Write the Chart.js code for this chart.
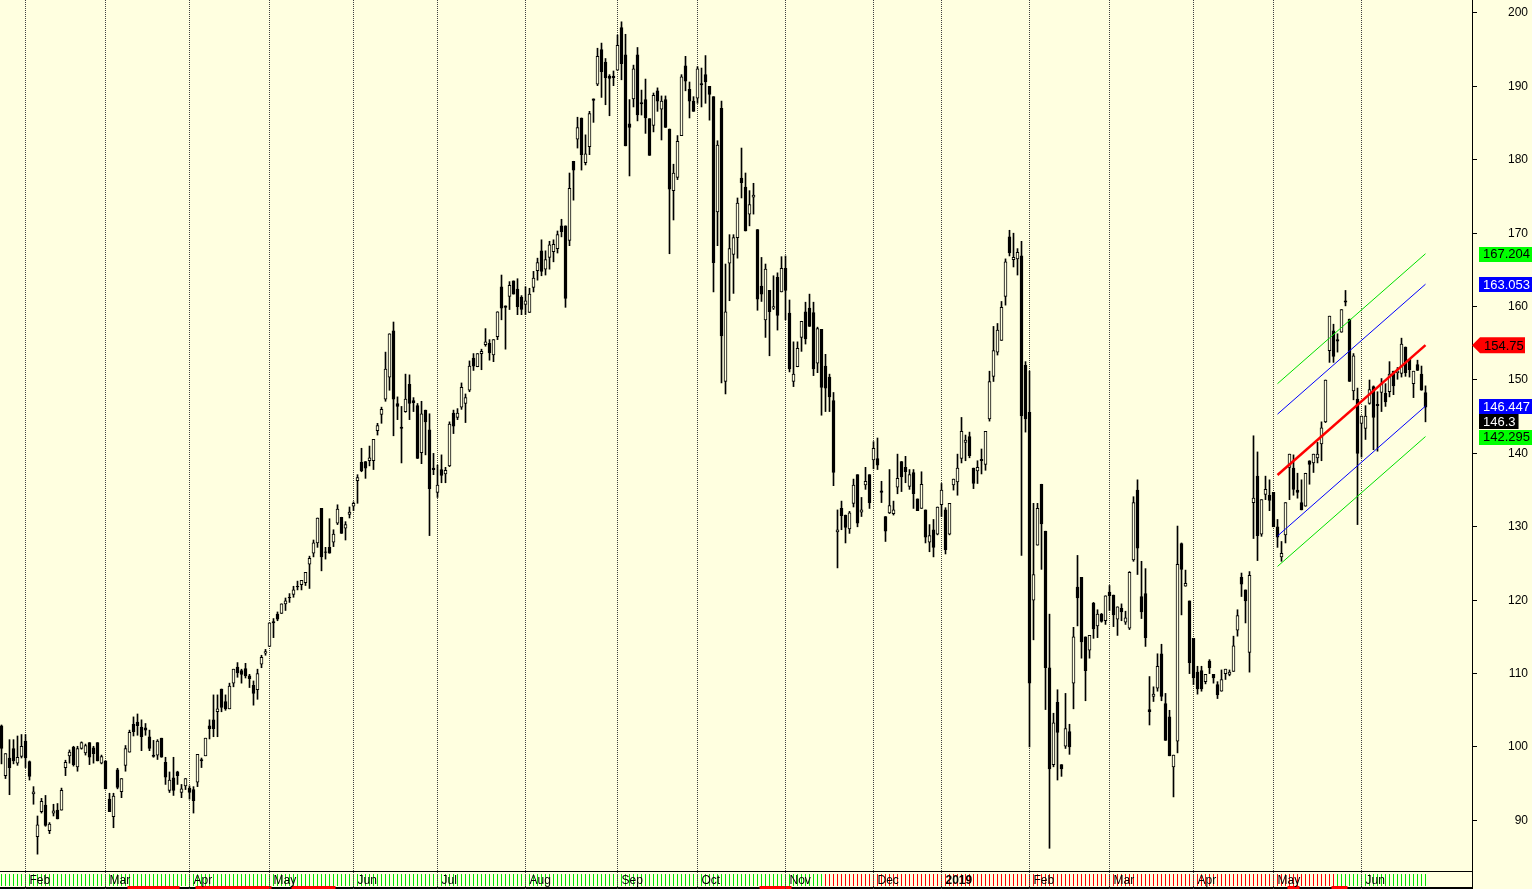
<!DOCTYPE html>
<html>
<head>
<meta charset="utf-8">
<script src="https://cdn.jsdelivr.net/npm/chart.js@4.4.1/dist/chart.umd.min.js"></script>
<style>
html, body { margin: 0; padding: 0; background: #FFFFE0; overflow: hidden; }
canvas { display: block; }
</style>
</head>
<body>
<canvas id="price_plot" width="1532" height="889"></canvas>
<script>
// daily bars, index 0 = first bar on the left
const opens = [
102.9,96.1,98.5,99.8,97.8,98.7,100.8,98.0,93.6,87.8,
91.2,92.1,88.6,91.0,91.4,91.4,97.2,98.8,100.0,97.3,
99.8,99.2,100.6,99.9,100.6,97.8,98.1,92.9,90.5,96.9,
93.9,97.5,99.3,103.1,103.4,102.7,102.6,101.4,98.9,98.9,
101.2,97.9,94.1,95.8,96.6,93.8,94.7,94.4,94.2,95.2,
98.3,98.8,102.9,103.7,104.8,107.9,106.2,105.2,108.7,110.9,
110.4,110.7,109.7,108.4,107.8,111.3,112.8,113.7,117.1,118.1,
118.2,119.5,120.4,120.8,121.9,122.1,122.4,124.9,126.4,127.8,
132.5,126.6,127.2,127.9,130.5,131.3,129.8,131.7,132.8,136.3,
138.8,138.9,139.0,139.0,143.1,145.3,147.4,150.4,156.7,146.8,
143.6,145.7,149.4,147.2,146.5,140.1,145.9,143.2,138.0,134.7,
137.8,137.2,138.3,145.5,144.9,146.3,146.8,148.6,153.0,151.8,
153.6,154.8,155.0,153.4,155.9,162.7,160.1,161.4,163.5,162.4,
161.3,160.3,159.2,162.6,164.9,167.6,165.1,166.7,167.5,167.9,
171.0,171.0,169.0,179.8,182.8,185.7,179.6,181.8,188.3,190.3,
195.0,193.3,191.4,191.4,192.2,198.0,194.3,184.9,188.3,194.3,
187.8,188.2,185.6,184.7,189.4,186.9,188.2,184.2,175.8,177.6,
183.3,192.8,189.6,188.0,188.4,190.4,191.6,190.0,188.6,172.9,
187.0,149.8,165.9,167.1,169.4,177.5,176.3,172.6,174.9,170.5,
162.8,158.2,162.2,159.8,164.0,162.0,165.2,159.1,149.8,151.8,
155.8,159.3,159.8,159.2,152.3,156.9,151.9,150.4,147.2,129.3,
132.5,131.6,129.7,133.2,137.1,132.0,135.7,137.1,139.1,139.3,
134.9,131.4,131.9,131.8,135.4,138.9,138.1,135.5,137.4,133.8,
132.5,132.3,127.9,129.6,129.0,133.0,132.3,129.0,135.7,136.1,
139.3,141.5,142.3,138.0,137.6,139.2,138.5,144.7,150.5,153.8,
155.4,161.4,169.5,166.4,166.5,166.9,152.0,145.6,120.0,127.5,
135.8,129.4,110.8,97.6,106.1,97.6,100.1,102.1,108.7,121.8,
123.1,115.0,113.2,119.6,116.5,118.1,117.2,121.1,120.7,117.4,
118.9,117.0,116.2,125.5,135.0,120.5,120.9,105.1,106.9,108.0,
112.7,105.9,104.1,97.3,100.8,127.7,121.9,119.9,114.8,110.2,
110.4,108.9,111.7,109.9,108.5,107.6,110.0,109.9,110.3,115.9,
123.1,121.4,112.9,133.3,136.9,129.0,134.4,134.3,134.7,130.0,
125.9,128.9,138.1,138.0,135.0,133.3,132.8,139.0,138.7,139.4,
141.3,144.3,154.0,156.7,155.5,156.5,160.8,158.3,148.5,147.4,
144.1,143.4,146.8,149.1,146.7,148.3,148.2,148.4,151.2,151.0,
150.9,154.5,152.8,149.5,152.1,150.8,148.3
];
const highs = [
103.0,99.1,101.0,101.0,101.5,101.7,101.7,98.1,94.6,90.6,
93.0,93.4,89.7,92.2,92.3,94.4,98.2,99.6,100.1,100.1,
100.7,100.4,100.6,100.1,100.6,98.9,98.1,93.7,93.7,97.1,
95.7,100.2,102.3,104.1,104.5,103.7,103.2,102.3,100.9,101.0,
101.2,98.6,96.6,98.6,96.7,94.9,95.7,94.7,94.6,99.0,
98.5,101.2,103.7,107.1,107.1,107.9,107.1,108.7,110.6,111.5,
110.6,111.4,109.9,109.0,110.6,112.5,113.3,116.9,117.5,118.4,
119.5,120.3,120.9,121.9,122.6,122.7,123.8,126.0,128.2,131.2,
132.5,127.2,131.1,129.6,133.0,131.3,130.7,132.7,133.4,137.1,
140.7,138.9,141.0,141.9,144.1,146.3,153.8,156.3,157.9,147.7,
146.4,150.8,150.7,147.6,146.8,147.1,145.9,145.4,140.0,138.4,
139.8,138.1,144.3,145.9,146.1,149.6,148.1,152.6,153.6,153.6,
154.2,157.0,155.5,155.5,159.3,164.3,160.1,163.4,163.5,163.8,
161.5,162.7,162.5,164.8,166.6,169.1,167.6,168.9,169.1,170.3,
171.9,171.0,178.2,179.8,185.8,185.7,183.4,186.6,188.3,195.2,
195.9,193.8,191.6,192.1,197.0,198.8,197.1,188.2,192.9,195.3,
189.5,191.0,185.6,189.1,189.8,188.7,188.7,184.2,179.4,183.3,
191.6,194.1,190.6,188.6,192.7,192.5,194.2,190.0,188.6,182.6,
188.0,165.8,169.8,169.8,174.8,181.6,178.2,175.8,176.8,170.5,
166.7,165.8,162.2,164.2,164.6,166.8,166.9,160.9,155.2,155.2,
158.0,160.6,161.7,160.6,157.2,156.9,153.5,150.8,148.3,132.3,
133.5,131.6,132.1,136.5,137.1,134.0,138.1,137.1,141.6,142.1,
136.2,131.4,137.8,133.5,139.9,138.9,139.6,137.8,137.8,133.8,
137.5,132.3,130.3,131.0,132.7,135.9,132.6,133.2,136.5,139.9,
144.9,142.5,142.9,138.0,139.0,140.6,143.0,151.2,157.3,157.7,
160.7,166.5,170.4,170.0,167.9,168.9,152.5,151.2,133.2,133.2,
135.8,129.4,118.1,104.6,107.8,97.6,107.3,103.1,116.3,126.1,
123.1,115.0,115.2,119.7,118.7,118.2,120.6,122.0,120.7,119.1,
119.5,118.5,123.9,134.1,136.4,125.3,124.3,109.6,108.2,112.7,
114.0,107.3,105.0,98.9,130.1,127.8,124.1,119.9,114.8,111.0,
111.0,109.9,111.9,109.9,108.9,110.5,110.6,110.5,115.1,118.7,
123.7,121.4,123.9,142.4,140.2,133.7,136.9,136.4,134.7,131.0,
128.0,133.3,139.9,139.8,137.3,136.4,137.3,139.0,139.9,141.5,
144.3,150.0,158.7,157.6,156.3,159.6,162.2,158.3,153.6,148.9,
145.1,146.5,150.0,149.2,148.4,150.2,149.5,152.5,151.2,151.7,
155.7,154.5,152.8,151.2,152.7,151.9,149.2
];
const lows = [
97.7,95.7,93.5,97.7,97.5,98.5,97.2,95.5,92.2,85.4,
91.0,89.2,88.2,90.6,90.2,91.4,96.1,97.8,97.4,96.7,
99.7,98.9,97.6,97.8,98.1,97.7,94.3,91.2,89.0,94.3,
93.1,96.7,99.3,101.5,101.6,99.5,101.6,99.5,98.6,98.3,
98.6,94.9,93.8,93.4,94.9,93.1,94.2,92.9,91.0,94.6,
97.2,98.8,101.1,101.4,101.4,104.8,105.0,105.2,108.2,109.5,
108.7,109.4,108.1,105.7,106.5,110.8,112.5,113.7,114.9,117.2,
118.2,118.6,119.7,120.4,121.4,121.4,122.0,121.6,125.9,127.2,
124.0,125.6,126.4,127.3,130.3,129.1,128.2,131.2,132.2,133.2,
137.5,136.6,138.3,137.8,142.5,144.1,147.1,148.6,142.4,144.6,
138.7,145.6,144.6,145.7,139.3,138.6,139.8,128.8,137.1,134.0,
136.0,136.0,138.2,142.7,144.6,146.0,144.2,148.4,151.3,151.8,
151.4,154.6,152.7,152.5,155.5,158.2,154.2,159.6,161.7,158.9,
158.9,158.9,159.2,162.0,163.6,164.2,164.3,165.1,166.1,167.3,
169.5,159.9,168.3,174.5,181.6,178.6,179.3,180.7,185.1,190.1,
188.5,187.5,186.0,190.1,192.2,190.9,181.9,177.8,187.2,185.3,
186.1,183.6,180.6,183.8,186.6,182.7,184.4,167.2,171.8,177.3,
183.3,189.4,185.7,186.6,187.7,187.2,187.7,185.4,162.0,168.3,
149.6,148.1,160.8,161.8,166.6,174.8,170.3,171.0,172.6,159.5,
160.7,155.8,153.3,159.6,156.8,162.0,158.2,151.1,149.1,151.8,
153.9,154.9,157.3,150.6,151.0,145.2,145.7,145.7,135.6,124.4,
129.6,127.8,129.1,132.7,130.0,131.4,135.1,132.5,137.9,137.8,
133.3,128.0,131.8,131.6,134.5,134.8,136.0,135.1,132.5,132.2,
132.5,127.8,126.6,125.9,128.9,131.4,126.3,128.9,135.0,134.3,
138.7,139.0,139.4,135.2,135.9,137.2,137.7,144.4,149.8,153.4,
155.4,160.2,166.9,165.4,164.3,126.1,142.9,100.0,114.6,127.5,
124.2,105.1,86.2,97.3,95.5,96.0,99.8,99.0,105.2,116.5,
112.1,106.3,112.1,114.8,114.9,117.0,116.7,118.6,116.4,115.2,
117.2,116.7,116.0,125.3,123.5,117.5,113.7,103.0,106.2,107.6,
106.3,100.9,98.8,93.2,99.2,118.0,121.9,110.0,108.5,107.2,
107.6,108.6,110.0,108.7,106.6,107.6,109.2,109.7,110.3,115.1,
120.5,116.9,110.2,128.4,125.4,128.7,133.7,132.2,130.0,127.2,
125.3,127.8,133.7,134.3,133.9,132.3,132.8,135.8,137.4,138.7,
139.0,144.2,152.4,152.4,153.8,156.5,160.1,149.8,147.3,130.3,
139.5,141.9,146.7,140.5,140.3,145.7,146.4,147.7,148.0,150.1,
150.4,150.5,150.4,147.6,151.3,148.6,144.3
];
const closes = [
99.8,99.1,97.2,98.1,98.6,100.1,98.5,96.0,93.9,89.4,
92.6,89.3,89.5,91.3,90.2,94.1,97.9,99.3,97.6,99.8,
100.6,100.2,98.6,99.1,98.1,98.7,94.3,91.2,93.3,94.5,
95.7,99.8,102.0,102.1,102.9,101.4,102.3,99.8,98.7,100.8,
98.6,95.9,95.5,94.1,96.1,94.3,95.7,93.8,92.7,99.0,
98.1,101.2,102.5,102.5,105.2,105.4,105.2,108.3,110.6,110.1,
109.9,109.7,109.3,107.3,110.0,112.2,113.0,116.9,116.9,117.4,
119.5,119.9,120.3,121.4,121.8,122.7,123.8,125.7,127.8,131.2,
125.9,126.5,126.4,129.0,132.4,129.1,130.3,132.0,133.2,136.7,
137.6,138.0,139.4,141.9,143.8,146.0,151.5,156.3,147.4,146.4,
143.4,147.4,146.8,146.9,139.3,145.4,144.3,135.2,137.8,135.7,
137.0,137.7,144.0,143.7,145.5,149.0,147.6,151.9,151.9,153.6,
153.9,155.2,153.7,155.5,159.3,159.8,159.9,162.9,161.7,160.0,
159.6,160.8,161.7,163.9,166.0,164.8,166.4,168.4,168.5,169.8,
170.2,161.1,176.1,178.6,184.4,180.7,180.8,186.3,188.1,194.1,
192.0,191.2,191.1,191.2,195.6,193.1,181.9,184.4,192.4,186.1,
187.6,185.7,180.6,188.8,188.0,188.0,184.4,176.0,178.2,182.5,
191.3,190.7,188.0,186.6,192.4,190.2,190.6,188.9,166.0,182.0,
156.0,159.3,167.9,169.4,174.1,176.9,170.3,173.9,175.2,161.0,
161.7,165.1,159.3,160.0,158.8,165.2,162.2,151.5,150.8,154.3,
158.0,155.6,157.3,151.5,157.0,149.0,148.9,147.7,137.4,129.6,
131.5,129.9,131.9,135.7,130.5,132.3,136.2,133.3,140.7,138.4,
134.7,129.4,132.9,132.3,136.6,136.8,137.5,137.1,134.5,132.2,
135.8,128.6,128.8,127.2,132.7,135.0,126.9,133.2,136.5,138.0,
143.0,141.8,139.7,135.9,138.1,139.0,143.0,149.8,154.0,156.8,
159.9,166.1,167.3,166.7,167.4,145.1,144.7,108.7,123.5,132.5,
130.4,110.8,97.0,103.3,102.0,97.0,102.5,100.0,115.0,120.3,
114.3,110.4,115.2,116.1,118.1,117.1,120.6,120.6,118.0,119.1,
118.4,117.6,123.8,133.3,127.1,118.4,114.9,104.8,107.2,111.0,
106.9,100.9,98.8,98.9,124.9,124.2,122.3,111.5,109.4,107.9,
107.9,109.9,110.8,109.4,107.1,109.2,110.6,110.2,113.8,117.9,
122.2,119.9,123.4,133.9,128.8,133.7,135.1,133.6,130.0,128.6,
126.4,133.3,139.9,135.1,134.7,132.3,137.3,138.5,139.9,139.9,
143.5,150.0,158.7,153.2,155.3,159.6,160.6,149.8,153.3,140.0,
145.1,145.1,148.7,144.9,146.5,149.5,147.0,150.8,149.2,151.2,
154.9,151.0,151.4,151.2,151.3,148.6,146.3
];

// first bar of each month and its label
const monthStarts = [6, 26, 47, 67, 88, 109, 131, 154, 174, 196, 218, 235, 257, 277, 298, 318, 340];
const monthNames = ['Feb','Mar','Apr','May','Jun','Jul','Aug','Sep','Oct','Nov','Dec','2019','Feb','Mar','Apr','May','Jun'];

// regression channel over the last bars (start / end values)
const channelX = [319, 356];
const channelMid = [137.05, 154.75];
const channelUp1 = [145.35, 163.053];
const channelLow1 = [128.75, 146.447];
const channelUp2 = [149.50, 167.204];
const channelLow2 = [124.60, 142.295];

// indicator strip under the chart: [fromBar, toBar, state]
const signalRanges = [[0, 205, 'up'], [206, 333, 'down'], [334, 356, 'up']];
const flagRanges = [[32, 44], [49, 67], [73, 83], [190, 197], [322, 324], [333, 336]];

// price tags on the right axis
const tagValues = [167.204, 163.053, 154.75, 146.447, 146.3, 142.295];
const tagTexts = ['167.204', '163.053', '154.75', '146.447', '146.3', '142.295'];

const BG = '#FFFFE0';
const FONT = "'Liberation Sans', Arial, sans-serif";
const tagStyles = [
    { bg: '#00FF00', fg: '#000000' },
    { bg: '#0000FF', fg: '#FFFFFF' },
    { bg: '#FF0000', fg: '#000000', arrow: true },
    { bg: '#0000FF', fg: '#FFFFFF' },
    { bg: '#000000', fg: '#FFFFFF' },
    { bg: '#00FF00', fg: '#000000' }
];

const bars = closes.map((c, i) => i);

function linePts(ys) {
    return channelX.map((x, i) => ({ x: x, y: ys[i] }));
}

const backgroundPlugin = {
    id: 'paper',
    beforeDraw(chart) {
        const ctx = chart.ctx;
        ctx.save();
        ctx.fillStyle = BG;
        ctx.fillRect(0, 0, chart.width, chart.height);
        ctx.restore();
    }
};

// month grid + bottom strip
const stripPlugin = {
    id: 'strip',
    beforeDatasetsDraw(chart) {
        const ctx = chart.ctx;
        const xs = chart.scales.x;
        const area = chart.chartArea;
        const H = chart.height;
        const px = i => Math.round(xs.getPixelForValue(i) - 0.5) + 0.5;
        ctx.save();

        // indicator ticks
        ctx.lineWidth = 1;
        signalRanges.forEach(r => {
            ctx.strokeStyle = r[2] === 'up' ? '#00E000' : '#FF0000';
            for (let i = r[0]; i <= r[1]; i++) {
                ctx.beginPath();
                ctx.moveTo(px(i), area.bottom + 3);
                ctx.lineTo(px(i), area.bottom + 15);
                ctx.stroke();
            }
        });

        // strip borders
        ctx.strokeStyle = '#000';
        ctx.beginPath();
        ctx.moveTo(0, area.bottom + 0.5);
        ctx.lineTo(area.right, area.bottom + 0.5);
        ctx.stroke();
        ctx.fillStyle = '#000';
        ctx.fillRect(0, H - 2, area.right, 2);
        ctx.fillStyle = '#FF0000';
        flagRanges.forEach(r => {
            const a = xs.getPixelForValue(r[0] - 0.5), b = xs.getPixelForValue(r[1] + 0.5);
            ctx.fillRect(a, H - 3, b - a, 3);
        });
        ctx.beginPath();
        ctx.strokeStyle = '#000';
        ctx.moveTo(area.right + 0.5, area.bottom);
        ctx.lineTo(area.right + 0.5, H);
        ctx.stroke();

        // dotted month lines
        ctx.strokeStyle = '#404040';
        ctx.setLineDash([1, 1]);
        monthStarts.forEach(i => {
            ctx.beginPath();
            ctx.moveTo(px(i), 0);
            ctx.lineTo(px(i), H);
            ctx.stroke();
        });
        ctx.setLineDash([]);

        // month names
        ctx.fillStyle = '#000';
        ctx.textBaseline = 'alphabetic';
        ctx.textAlign = 'left';
        monthNames.forEach((m, k) => {
            ctx.font = (m === '2019' ? 'bold ' : '') + '12px ' + FONT;
            ctx.fillText(m, px(monthStarts[k]) + 4, area.bottom + 13);
        });
        ctx.restore();
    }
};

// coloured value tags at the right axis
const tagPlugin = {
    id: 'tags',
    afterDraw(chart) {
        const ctx = chart.ctx;
        const ys = chart.scales.y;
        const left = chart.chartArea.right;
        const h = 14;
        ctx.save();
        ctx.font = '13px ' + FONT;
        ctx.textBaseline = 'middle';
        ctx.textAlign = 'left';
        let prev = -100;
        tagValues.forEach((v, k) => {
            let cy = ys.getPixelForValue(v);
            if (cy < prev + h + 1) cy = prev + h + 1;
            prev = cy;
            const st = tagStyles[k];
            const w = ctx.measureText(tagTexts[k]).width;
            ctx.fillStyle = st.bg;
            if (st.arrow) {
                ctx.beginPath();
                ctx.moveTo(left, cy);
                ctx.lineTo(left + 8, cy - 8);
                ctx.lineTo(left + 53, cy - 8);
                ctx.lineTo(left + 53, cy + 8);
                ctx.lineTo(left + 8, cy + 8);
                ctx.closePath();
                ctx.fill();
                ctx.fillStyle = st.fg;
                ctx.fillText(tagTexts[k], left + 12, cy + 1);
            } else {
                ctx.fillRect(left + 7, Math.round(cy - h / 2), w + 7, h + 1);
                ctx.fillStyle = st.fg;
                ctx.fillText(tagTexts[k], left + 11, cy + 1);
            }
        });
        ctx.restore();
    }
};

new Chart(document.getElementById('price_plot').getContext('2d'), {
    type: 'bar',
    data: {
        datasets: [{
            type: 'line',
            label: 'Regression',
            data: linePts(channelMid),
            borderColor: '#FF0000',
            borderWidth: 2.5,
            pointRadius: 0,
            fill: false,
            order: 0
        }, {
            type: 'line',
            label: 'Upper 1',
            data: linePts(channelUp1),
            borderColor: '#0000FF',
            borderWidth: 1,
            pointRadius: 0,
            fill: false,
            order: 0
        }, {
            type: 'line',
            label: 'Lower 1',
            data: linePts(channelLow1),
            borderColor: '#0000FF',
            borderWidth: 1,
            pointRadius: 0,
            fill: false,
            order: 0
        }, {
            type: 'line',
            label: 'Upper 2',
            data: linePts(channelUp2),
            borderColor: '#00E000',
            borderWidth: 1,
            pointRadius: 0,
            fill: false,
            order: 0
        }, {
            type: 'line',
            label: 'Lower 2',
            data: linePts(channelLow2),
            borderColor: '#00E000',
            borderWidth: 1,
            pointRadius: 0,
            fill: false,
            order: 0
        }, {
            label: 'Body',
            data: bars.map(i => ({ x: i, y: [opens[i], closes[i]] })),
            backgroundColor: c => (closes[c.dataIndex] >= opens[c.dataIndex] ? BG : '#000000'),
            borderColor: '#000000',
            borderWidth: 1,
            borderSkipped: false,
            barThickness: 3,
            grouped: false,
            order: 1
        }, {
            label: 'Range',
            data: bars.map(i => ({ x: i, y: [lows[i], highs[i]] })),
            backgroundColor: '#000000',
            borderWidth: 0,
            barThickness: 1,
            grouped: false,
            order: 2
        }]
    },
    options: {
        responsive: false,
        animation: false,
        devicePixelRatio: 1,
        layout: { padding: { left: 0, right: 4, top: 0, bottom: 18 } },
        plugins: {
            legend: { display: false },
            tooltip: { enabled: false }
        },
        scales: {
            x: {
                type: 'linear',
                min: -0.375,
                max: 367.625,
                offset: false,
                display: false
            },
            y: {
                position: 'right',
                min: 83.106,
                max: 201.771,
                afterFit: s => {
                    s.width = 56;
                    s.paddingTop = 0;
                    s.paddingBottom = 0;
                },
                border: { color: '#000000', width: 1 },
                grid: { drawOnChartArea: false, tickLength: 5, color: '#000000' },
                ticks: {
                    stepSize: 10,
                    includeBounds: false,
                    autoSkip: false,
                    crossAlign: 'far',
                    color: '#000000',
                    font: { family: FONT, size: 12 }
                }
            }
        }
    },
    plugins: [backgroundPlugin, stripPlugin, tagPlugin]
});
</script>
</body>
</html>
